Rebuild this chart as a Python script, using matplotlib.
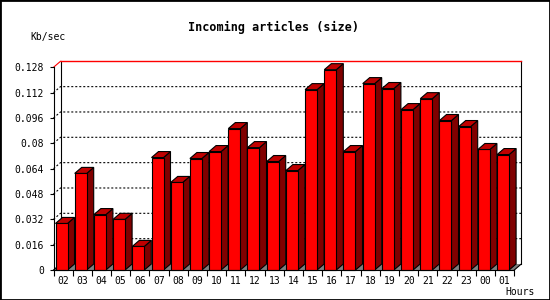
import matplotlib
matplotlib.use('Agg')
import matplotlib.pyplot as plt
from matplotlib.patches import Polygon, Rectangle

hours = ['02', '03', '04', '05', '06', '07', '08', '09', '10', '11', '12', '13',
         '14', '15', '16', '17', '18', '19', '20', '21', '22', '23', '00', '01']
sizes = [0.0294, 0.0610, 0.0350, 0.0320, 0.0149, 0.0710, 0.0553, 0.0704,
         0.0748, 0.0893, 0.0773, 0.0685, 0.0628, 0.1139, 0.1265, 0.0748,
         0.1177, 0.1146, 0.1013, 0.1082, 0.0944, 0.0906, 0.0761, 0.0729]
y_ticks = [0, 0.016, 0.032, 0.048, 0.064, 0.08, 0.096, 0.112, 0.128]
y_labels = ['0', '0.016', '0.032', '0.048', '0.064', '0.08', '0.096', '0.112', '0.128']

Y_MAX = 0.128
W, H = 550, 300
FONT = 'DejaVu Sans Mono'

fig = plt.figure(figsize=(5.5, 3), dpi=100)
fig.patch.set_facecolor('white')
ax = fig.add_axes([53.5 / W, 1 - 270 / H, 460.8 / W, 202.7 / H])
n = len(hours)
ax.set_xlim(0, n)
ax.set_ylim(0, Y_MAX)

# pixel -> data units for the fake 3d depth
px_x = n / 460.8
px_y = Y_MAX / 202.7
dx = 7 * px_x
dy = 6 * px_y
bar_off = 2 * px_x
bar_w = 12 * px_x

# floor
ax.add_patch(Polygon([(0, 0), (n, 0), (n + dx, dy), (dx, dy)], closed=True,
                     facecolor='#808080', edgecolor='none', clip_on=False, zorder=1))

# back plane
ax.plot([dx, dx], [dy, Y_MAX + dy], color='black', lw=0.8, clip_on=False, zorder=1.5)
ax.plot([n + dx, n + dx], [dy, Y_MAX + dy], color='black', lw=0.8, clip_on=False, zorder=1.5)
ax.plot([dx, n + dx], [Y_MAX + dy, Y_MAX + dy], color='red', lw=1.0, clip_on=False, zorder=1.5)
ax.plot([0, dx], [Y_MAX, Y_MAX + dy], color='red', lw=0.8, clip_on=False, zorder=1.5)
ax.plot([0, dx], [0, dy], color='black', lw=0.8, clip_on=False, zorder=1.5)
ax.plot([n, n + dx], [0, dy], color='black', lw=0.8, clip_on=False, zorder=1.5)

# dotted grid on back plane
for v in y_ticks[1:-1]:
    ax.plot([0, dx, n + dx], [v, v + dy, v + dy], color='black', lw=0.8,
            dashes=(1.8, 1.8), clip_on=False, zorder=1.5)

# bars
for i, val in enumerate(sizes):
    x0 = i + bar_off
    x1 = x0 + bar_w
    front = [(x0, 0), (x1, 0), (x1, val), (x0, val)]
    side = [(x1, 0), (x1 + dx, dy), (x1 + dx, val + dy), (x1, val)]
    top = [(x0, val), (x1, val), (x1 + dx, val + dy), (x0 + dx, val + dy)]
    ax.add_patch(Polygon(side, closed=True, facecolor='#800000', edgecolor='black',
                         lw=0.8, clip_on=False, zorder=3))
    ax.add_patch(Polygon(front, closed=True, facecolor='#ff0000', edgecolor='black',
                         lw=0.8, clip_on=False, zorder=3))
    ax.add_patch(Polygon(top, closed=True, facecolor='#c00000', edgecolor='black',
                         lw=0.8, clip_on=False, zorder=3))

for s in ['top', 'right']:
    ax.spines[s].set_visible(False)
for s in ['left', 'bottom']:
    ax.spines[s].set_linewidth(0.8)
    ax.spines[s].set_zorder(4)
ax.patch.set_visible(False)

ax.set_yticks(y_ticks)
ax.set_yticklabels(y_labels, fontfamily=FONT, fontsize=7)
ax.tick_params(axis='y', length=3, width=0.8, pad=4)

ax.set_xticks([i + 0.5 for i in range(n)])
ax.set_xticklabels(hours, fontfamily=FONT, fontsize=7)
ax.set_xticks(range(n + 1), minor=True)
ax.tick_params(axis='x', which='major', length=0, pad=4)
ax.tick_params(axis='x', which='minor', length=4, width=0.8)

fig.text(273.5 / W, 1 - 27 / H, 'Incoming articles (size)', ha='center', va='center',
         fontfamily=FONT, fontsize=8.5, fontweight='bold')
fig.text(30 / W, 1 - 37 / H, 'Kb/sec', ha='left', va='center', fontfamily=FONT, fontsize=7)
fig.text(505 / W, 1 - 292 / H, 'Hours', ha='left', va='center', fontfamily=FONT, fontsize=7)

fig.patches.append(Rectangle((0, 0), 1, 1, transform=fig.transFigure, fill=False,
                             edgecolor='black', lw=2))

fig.savefig('out.png', dpi=100)
